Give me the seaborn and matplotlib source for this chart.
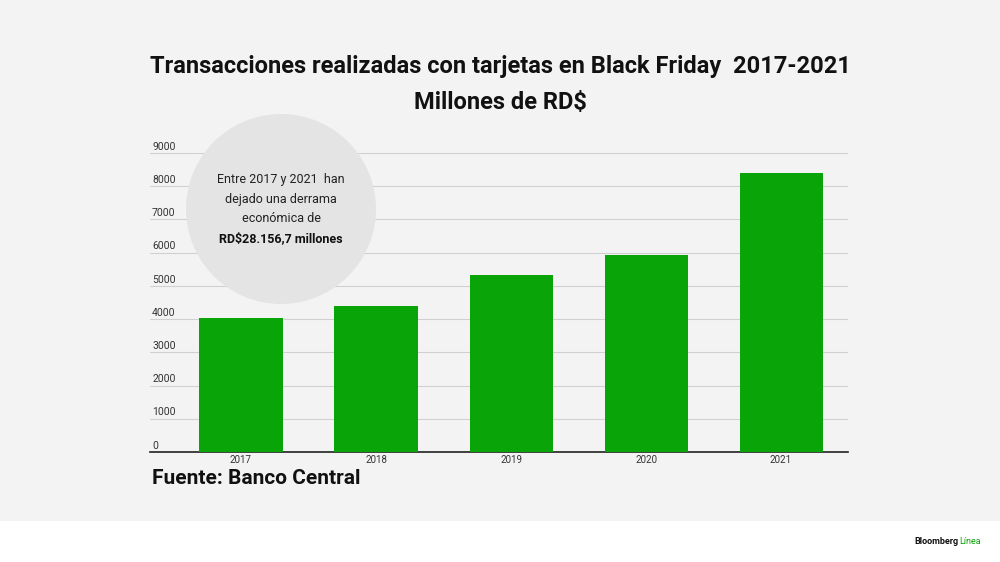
import matplotlib
matplotlib.use("Agg")
import matplotlib.pyplot as plt
import seaborn as sns
import pandas as pd
from matplotlib.patches import Ellipse, Rectangle

years = ["2017", "2018", "2019", "2020", "2021"]
values = [4036, 4398, 5331, 5934, 8404]
yticks = [0, 1000, 2000, 3000, 4000, 5000, 6000, 7000, 8000, 9000]

sns.set_theme(style="white")
plt.rcParams['font.family'] = ['Roboto', 'DejaVu Sans']

W, H = 1000, 562
fig = plt.figure(figsize=(10, 5.62), dpi=100)
fig.patch.set_facecolor("white")
fig.patches.append(Rectangle((0, (H-521)/H), 1, 521/H, transform=fig.transFigure,
                             facecolor="#f3f3f3", edgecolor="none", zorder=-10))

ax = fig.add_axes([150/W, (H-452)/H, 698/W, 299/H])
ax.set_facecolor("none")
df = pd.DataFrame({"year": years, "value": values})
sns.barplot(data=df, x="year", y="value", color="#08a408", saturation=1, width=0.615,
            linewidth=0, ax=ax, zorder=3)
ax.set_ylim(0, 9000)
ax.set_xlim(-0.674, 4.496)
ax.set_yticks(yticks)
ax.set_yticklabels([])
for t in yticks:
    ax.axhline(t, color="#d0d0d0", lw=0.8, zorder=1)
    ax.text(0.003, t + 40, str(t), transform=ax.get_yaxis_transform(), fontsize=7.5,
            color="#333333", ha="left", va="bottom")
ax.tick_params(axis="y", length=0)
ax.tick_params(axis="x", length=0, labelsize=7, colors="#333333", pad=2)
ax.set_xlabel(""); ax.set_ylabel("")
for s in ["top", "right", "left"]:
    ax.spines[s].set_visible(False)
ax.spines["bottom"].set_color("#222222")
ax.spines["bottom"].set_linewidth(1.2)

fig.patches.append(Ellipse((281/W, (H-209)/H), 190/W, 190/H, transform=fig.transFigure,
                           facecolor="#e4e4e4", edgecolor="none", zorder=5))
fig.text(281/W, (H-179)/H, "Entre 2017 y 2021  han", ha="center", va="center", fontsize=9, color="#222222", zorder=6)
fig.text(281/W, (H-199)/H, "dejado una derrama", ha="center", va="center", fontsize=9, color="#222222", zorder=6)
fig.text(281/W, (H-219)/H, "económica de", ha="center", va="center", fontsize=9, color="#222222", zorder=6)
fig.text(281/W, (H-239)/H, "RD$28.156,7 millones", ha="center", va="center", fontsize=9, fontweight="bold", color="#111111", zorder=6)

fig.text(500/W, (H-67)/H, "Transacciones realizadas con tarjetas en Black Friday  2017-2021",
         ha="center", va="center", fontsize=17, fontweight="bold", color="#111111")
fig.text(500/W, (H-102)/H, "Millones de RD$", ha="center", va="center", fontsize=17, fontweight="bold", color="#111111")
fig.text(152/W, (H-479)/H, "Fuente: Banco Central", ha="left", va="center", fontsize=15, fontweight="bold", color="#111111")
fig.text(914/W, (H-541)/H, "Bloomberg", ha="left", va="center", fontsize=6.5, fontweight="bold", color="#111111")
fig.text(959/W, (H-541)/H, "Línea", ha="left", va="center", fontsize=6.5, color="#08a408")

fig.savefig("out.png", dpi=100)
